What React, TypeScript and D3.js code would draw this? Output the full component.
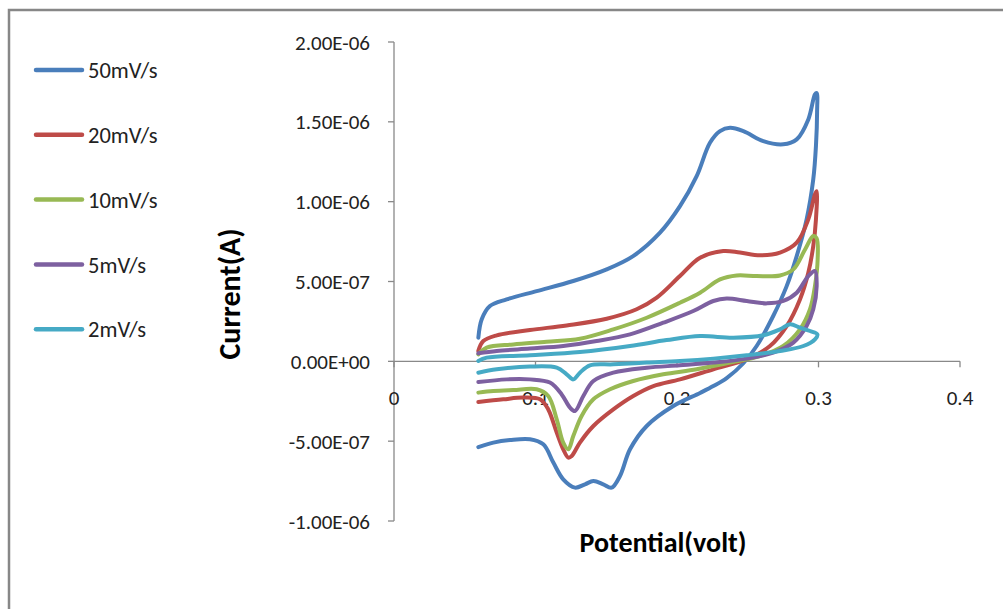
import React, { useEffect, useRef } from 'react'
import * as d3 from 'd3'

// potential (V), current in units of 1e-7 A
const scan50 = [
  [0.0596, 1.48], [0.062, 2.63], [0.0678, 3.46], [0.0796, 3.88], [0.1008, 4.4], [0.1267, 5.03],
  [0.1503, 5.76], [0.169, 6.59], [0.188, 8.06], [0.2021, 9.72], [0.2139, 11.6], [0.2233, 13.69],
  [0.2304, 14.42], [0.2375, 14.63], [0.2469, 14.42], [0.261, 13.79], [0.2751, 13.59], [0.2846, 13.9],
  [0.2928, 15.15], [0.2975, 16.72], [0.2987, 16.8], [0.299, 15.6], [0.2982, 13.5], [0.2963, 11.4],
  [0.2916, 8.89], [0.2846, 6.59], [0.2775, 4.71], [0.268, 2.84], [0.2563, 0.96], [0.2469, -0.12],
  [0.2351, -1.05], [0.2257, -1.55], [0.2163, -1.98], [0.1974, -2.8], [0.1786, -4.05], [0.1668, -5.51], [0.1597, -7.18],
  [0.1538, -7.91], [0.1479, -7.7], [0.1409, -7.5], [0.135, -7.7], [0.1279, -7.91], [0.1196, -7.39],
  [0.1126, -6.34], [0.1055, -5.2], [0.0961, -4.88], [0.082, -4.93], [0.0702, -5.09], [0.0596, -5.37]
]

const scan20 = [
  [0.0596, 0.65], [0.0631, 1.27], [0.0726, 1.63], [0.0961, 1.96], [0.122, 2.25], [0.1503, 2.67],
  [0.1715, 3.26], [0.1857, 3.99], [0.2021, 5.34], [0.2163, 6.49], [0.2327, 6.91], [0.2445, 6.81],
  [0.2587, 6.64], [0.2728, 6.81], [0.2846, 7.43], [0.2928, 8.89], [0.2975, 10.46], [0.2987, 10.66],
  [0.2982, 8.89], [0.2963, 7.22], [0.2928, 5.55], [0.2869, 3.88], [0.2775, 2.21], [0.2657, 0.96],
  [0.2493, 0.13], [0.2257, -0.5], [0.2021, -1.13], [0.1833, -1.55], [0.1691, -2.17], [0.155, -3.01],
  [0.1409, -4.05], [0.1314, -5.09], [0.1256, -5.93], [0.1232, -6.03], [0.1196, -5.51], [0.115, -4.46],
  [0.109, -3.01], [0.1032, -2.38], [0.0914, -2.27], [0.0772, -2.38], [0.0596, -2.55]
]

const scan10 = [
  [0.0596, 0.44], [0.0655, 0.86], [0.0843, 1.06], [0.1079, 1.23], [0.1314, 1.42], [0.155, 2.0],
  [0.1786, 2.73], [0.2021, 3.67], [0.2163, 4.3], [0.2304, 5.13], [0.2422, 5.38], [0.2563, 5.34],
  [0.2728, 5.38], [0.2822, 5.76], [0.2905, 7.01], [0.2963, 7.85], [0.2987, 7.7], [0.2994, 6.39],
  [0.2975, 4.71], [0.294, 3.26], [0.2869, 2.0], [0.2751, 0.96], [0.2587, 0.33], [0.2375, -0.08],
  [0.2139, -0.5], [0.1903, -0.81], [0.1691, -1.23], [0.1527, -1.75], [0.1409, -2.38], [0.1326, -3.42],
  [0.1267, -4.68], [0.1232, -5.51], [0.1196, -5.09], [0.115, -3.63], [0.109, -2.17], [0.1008, -1.75],
  [0.0843, -1.8], [0.0702, -1.86], [0.0596, -1.96]
]

const scan5 = [
  [0.0596, 0.5], [0.0726, 0.65], [0.0961, 0.8], [0.1196, 0.96], [0.1432, 1.27], [0.1668, 1.69],
  [0.1903, 2.42], [0.2115, 3.15], [0.2257, 3.78], [0.2351, 3.93], [0.2493, 3.78], [0.2634, 3.63],
  [0.2751, 3.78], [0.2846, 4.3], [0.2928, 5.34], [0.2975, 5.65], [0.2987, 4.71], [0.2963, 3.26],
  [0.2916, 2.21], [0.2822, 1.17], [0.268, 0.54], [0.2493, 0.17], [0.2257, -0.08], [0.2021, -0.25],
  [0.1786, -0.4], [0.155, -0.71], [0.1409, -1.23], [0.1338, -2.17], [0.1279, -3.11], [0.1244, -2.9],
  [0.1185, -2.07], [0.1102, -1.33], [0.0961, -1.13], [0.0796, -1.13], [0.0596, -1.3]
]

const scan2 = [
  [0.0596, 0.02], [0.0655, 0.23], [0.0961, 0.38], [0.1314, 0.58], [0.1668, 0.96], [0.1927, 1.33],
  [0.2163, 1.58], [0.2398, 1.48], [0.261, 1.63], [0.2728, 2.0], [0.2799, 2.32], [0.2869, 2.11],
  [0.294, 1.9], [0.2992, 1.69], [0.2975, 1.38], [0.2893, 0.96], [0.2728, 0.65], [0.2493, 0.38],
  [0.2257, 0.17], [0.2021, 0.02], [0.1786, -0.08], [0.155, -0.19], [0.1385, -0.25], [0.1314, -0.71],
  [0.1267, -1.13], [0.122, -0.81], [0.115, -0.4], [0.0961, -0.33], [0.0726, -0.5], [0.0596, -0.71]
]

const seriesNames = ['50mV/s', '20mV/s', '10mV/s', '5mV/s', '2mV/s']
const seriesColors = ['#4a7ebb', '#be4b48', '#98b954', '#7d60a0', '#46aac5']
const seriesData = [scan50, scan20, scan10, scan5, scan2]

const xTicks = [0, 0.1, 0.2, 0.3, 0.4]
const yTicks = [-10, -5, 0, 5, 10, 15, 20]

const font = 'Carlito, Calibri, Lato, sans-serif'

function expLabel (d) {
  const s = (d * 1e-7).toExponential(2).toUpperCase()
  const [m, e] = s.split('E')
  const sign = e[0] === '-' ? '-' : '+'
  const digits = e.replace(/[+-]/, '').padStart(2, '0')
  return m + 'E' + sign + digits
}

function Chart () {
  const ref = useRef(null)

  useEffect(() => {
    const svg = d3.select(ref.current)
    svg.selectAll('*').remove()

    const x = d3.scaleLinear().domain([0, 0.4]).range([394, 960])
    const y = d3.scaleLinear().domain([-10, 20]).range([521, 42])

    // outer frame (only top and left edges are inside the picture)
    svg.append('path')
      .attr('d', 'M9,1000 L9,10 L1010,10')
      .attr('fill', 'none')
      .attr('stroke', '#878787')
      .attr('stroke-width', 2.5)

    const axisColor = '#898989'

    // y axis
    const ya = svg.append('g')
    ya.append('line')
      .attr('x1', x(0)).attr('x2', x(0))
      .attr('y1', y(-10)).attr('y2', y(20))
      .attr('stroke', axisColor).attr('stroke-width', 1.3)
    ya.selectAll('.yt').data(yTicks).enter().append('line')
      .attr('x1', x(0) - 6).attr('x2', x(0))
      .attr('y1', d => y(d)).attr('y2', d => y(d))
      .attr('stroke', axisColor).attr('stroke-width', 1.3)
    ya.selectAll('.yl').data(yTicks).enter().append('text')
      .attr('x', 370)
      .attr('y', d => y(d))
      .attr('dy', '0.36em')
      .attr('text-anchor', 'end')
      .attr('font-family', font)
      .attr('font-size', 21)
      .attr('fill', '#222')
      .text(expLabel)

    // x axis
    const xa = svg.append('g')
    xa.append('line')
      .attr('x1', x(0)).attr('x2', x(0.4))
      .attr('y1', y(0)).attr('y2', y(0))
      .attr('stroke', axisColor).attr('stroke-width', 1.3)
    xa.selectAll('.xt').data(xTicks).enter().append('line')
      .attr('x1', d => x(d)).attr('x2', d => x(d))
      .attr('y1', y(0)).attr('y2', y(0) + 6)
      .attr('stroke', axisColor).attr('stroke-width', 1.3)
    xa.selectAll('.xl').data(xTicks).enter().append('text')
      .attr('x', d => x(d))
      .attr('y', y(0) + 36)
      .attr('dy', '0.36em')
      .attr('text-anchor', 'middle')
      .attr('font-family', font)
      .attr('font-size', 21)
      .attr('fill', '#222')
      .text(d => String(d))

    // curves
    const line = d3.line()
      .x(d => x(d[0]))
      .y(d => y(d[1]))
      .curve(d3.curveCatmullRom.alpha(0.5))

    svg.append('g').selectAll('path')
      .data(seriesData)
      .enter().append('path')
      .attr('d', line)
      .attr('fill', 'none')
      .attr('stroke', (d, i) => seriesColors[i])
      .attr('stroke-width', 4)
      .attr('stroke-linejoin', 'round')
      .attr('stroke-linecap', 'round')

    // axis titles
    svg.append('text')
      .attr('x', 663)
      .attr('y', 552)
      .attr('text-anchor', 'middle')
      .attr('font-family', font)
      .attr('font-weight', 'bold')
      .attr('font-size', 28)
      .attr('fill', '#000')
      .text('Potential(volt)')

    svg.append('text')
      .attr('transform', 'translate(240,294) rotate(-90)')
      .attr('text-anchor', 'middle')
      .attr('font-family', font)
      .attr('font-weight', 'bold')
      .attr('font-size', 30)
      .attr('fill', '#000')
      .text('Current(A)')

    // legend
    const lg = svg.append('g').selectAll('g')
      .data(seriesNames)
      .enter().append('g')
      .attr('transform', (d, i) => 'translate(0,' + (70 + i * 64.8) + ')')

    lg.append('line')
      .attr('x1', 36).attr('x2', 82)
      .attr('y1', 0).attr('y2', 0)
      .attr('stroke', (d, i) => seriesColors[i])
      .attr('stroke-width', 4.5)
      .attr('stroke-linecap', 'round')

    lg.append('text')
      .attr('x', 88)
      .attr('dy', '0.36em')
      .attr('font-family', font)
      .attr('font-size', 22.5)
      .attr('fill', '#222')
      .text(d => d)
  }, [])

  return <svg ref={ref} width={1003} height={609} style={{ position: 'absolute', left: 0, top: 0, background: '#fff' }} />
}

export default function App () {
  return <Chart />
}
